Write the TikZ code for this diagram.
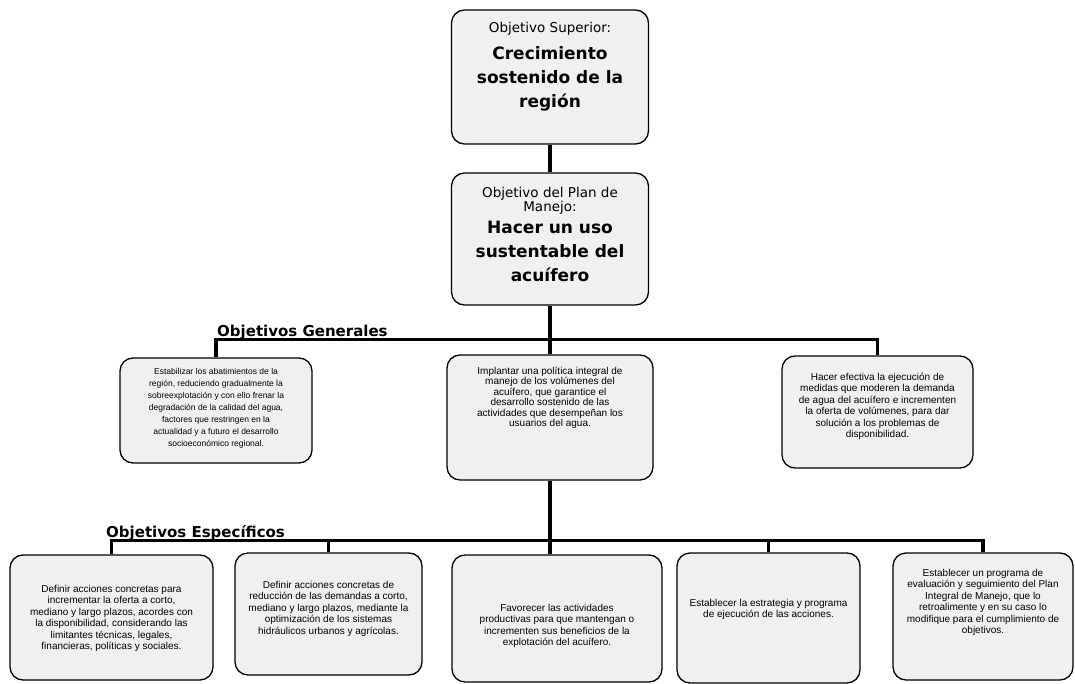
\documentclass[tikz,border=0pt]{standalone}
\usepackage{fontspec}
\setmainfont{Liberation Sans}
\newfontfamily\fuentetitulo{DejaVu Sans}
\tikzset{
    caja/.style={draw, fill=gray!12, rounded corners=13pt, line width=1.3pt, inner sep=0pt,
        font=\fontsize{10}{11.5}\selectfont},
    conector/.style={line width=3.5pt},
    titulo/.style={font=\fuentetitulo\bfseries\fontsize{15}{17}\selectfont, inner sep=0pt}
}
\newcommand{\grande}{\fuentetitulo\bfseries\fontsize{17}{24}\selectfont}
\newcommand{\encabezado}{\fuentetitulo\fontsize{13.5}{12.5}\selectfont}
\newcommand{\contenido}[4]{\begin{minipage}[c][#2pt][t]{#1pt}\centering\vspace*{#3pt}#4\end{minipage}}
\begin{document}
\begin{tikzpicture}[x=1pt, y=-1pt]
        %\draw [help lines, step=50] (0,0) grid (1075,684);
        \useasboundingbox (0,0) rectangle (1075,684);

        \node (sup) [caja] at (550,77) {\contenido{197}{134}{12}{{\encabezado Objetivo Superior:\par}\vspace{3pt}{\grande Crecimiento\\ sostenido de la\\ región\par}}};
        \node (plan) [caja] at (550,239) {\contenido{197}{132}{14}{{\encabezado Objetivo del Plan de\\ Manejo:\par}\vspace{-2pt}{\grande Hacer un uso\\ sustentable del\\ acuífero\par}}};

        % objetivos generales
        \node (gl) [caja, font=\fontsize{8.5}{12}\selectfont] at (216,410.5) {\contenido{192}{105}{10}{Estabilizar los abatimientos de la\\ región, reduciendo gradualmente la\\ sobreexplotación y con ello frenar la\\ degradación de la calidad del agua,\\ factores que restringen en la\\ actualidad y a futuro el desarrollo\\ socioeconómico regional.}};
        \node (gc) [caja, font=\fontsize{10}{10.5}\selectfont] at (550,417.5) {\contenido{206}{125}{12}{Implantar una política integral de\\ manejo de los volúmenes del\\ acuífero, que garantice el\\ desarrollo sostenido de las\\ actividades que desempeñan los\\ usuarios del agua.}};
        \node (gr) [caja] at (877.5,412) {\contenido{191}{112}{17}{Hacer efectiva la ejecución de\\ medidas que moderen la demanda\\ de agua del acuífero e incrementen\\ la oferta de volúmenes, para dar\\ solución a los problemas de\\ disponibilidad.}};

        % objetivos especificos
        \node (e1) [caja] at (111.5,617.5) {\contenido{203}{125}{30}{Definir acciones concretas para\\ incrementar la oferta a corto,\\ mediano y largo plazos, acordes con\\ la disponibilidad, considerando las\\ limitantes técnicas, legales,\\ financieras, políticas y sociales.}};
        \node (e2) [caja] at (328.5,614) {\contenido{187}{122}{28}{Definir acciones concretas de\\ reducción de las demandas a corto,\\ mediano y largo plazos, mediante la\\ optimización de los sistemas\\ hidráulicos urbanos y agrícolas.}};
        \node (e3) [caja] at (557,618.5) {\contenido{210}{127}{49}{Favorecer las actividades\\ productivas para que mantengan o\\ incrementen sus beneficios de la\\ explotación del acuífero.}};
        \node (e4) [caja] at (768.5,618) {\contenido{183}{130}{46}{Establecer la estrategia y programa\\ de ejecución de las acciones.}};
        \node (e5) [caja] at (983,616.5) {\contenido{180}{127}{16}{Establecer un programa de\\ evaluación y seguimiento del Plan\\ Integral de Manejo, que lo\\ retroalimente y en su caso lo\\ modifique para el cumplimiento de\\ objetivos.}};

        \node (hgen) [titulo, anchor=base west] at (217,336) {Objetivos Generales};
        \node (hesp) [titulo, anchor=base west] at (106,537) {Objetivos Específicos};

        \coordinate (busG) at (550,339.5);
        \coordinate (busE) at (550,540.5);

        \draw [conector] (sup.south) -- (plan.north);
        \draw [conector] (plan.south) -- (busG);
        \draw [conector] (gl.north) |- (busG) -| (gr.north);
        \draw [conector] (busG) -- (gc.north);
        \draw [conector] (gc.south) -- (busE);
        \draw [conector] (e1.north) |- (busE) -| (e5.north);
        \draw [conector] (e2.north) -- (e2.north |- busE);
        \draw [conector] (busE) -- (busE |- e3.north);
        \draw [conector] (e4.north) -- (e4.north |- busE);
    \end{tikzpicture}
\end{document}
